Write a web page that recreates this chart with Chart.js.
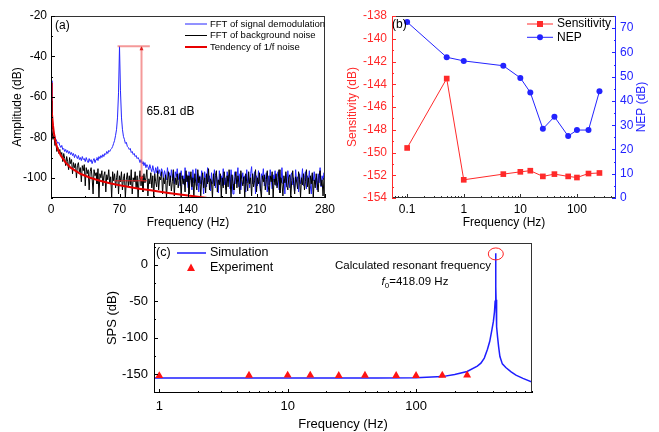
<!DOCTYPE html>
<html>
<head>
<meta charset="utf-8">
<script src="https://cdn.jsdelivr.net/npm/chart.js@4.4.1/dist/chart.umd.min.js"></script>
<style>
  html, body { margin: 0; padding: 0; background: #fff; }
  #wrap { position: relative; width: 659px; height: 432px; overflow: hidden; background: #fff; }
  canvas { position: absolute; }
  #cA { left: 0; top: 0; }
  #cB { left: 330px; top: 0; }
  #cC { left: 0; top: 232px; }
</style>
</head>
<body>
<div id="wrap">
  <canvas id="cC" width="659" height="200"></canvas>
  <canvas id="cA" width="345" height="235"></canvas>
  <canvas id="cB" width="329" height="235"></canvas>
</div>
<script>
// ---- (a) FFT spectra, one value per 1 Hz bin from 0 Hz to 280 Hz ----
const fftStartHz = 0;
const fftStepHz = 1;
const fftSignal = [
  -52, -68, -75, -78, -80, -81, -82, -83, -82.5, -84,
  -85, -84, -86, -85.5, -87, -86, -87.5, -86.5, -88, -87,
  -88.5, -87.5, -89, -88, -90, -88.5, -89.5, -90.5, -89, -91,
  -90, -91.5, -89.5, -91, -90.5, -92, -90, -91.5, -92.5, -90.5,
  -92, -91, -93, -91.5, -90.5, -92.5, -91, -90, -91.5, -89.5,
  -90.5, -89, -90, -88.5, -89.5, -88, -88.5, -87, -88, -86.5,
  -87, -86, -85.5, -84.5, -83, -81.5, -79, -76, -70, -58,
  -35, -57, -70, -76, -79.5, -81, -83, -82.5, -84.5, -85,
  -86, -85.5, -87.5, -87, -88.5, -88, -89.5, -89, -90.5, -90,
  -91, -92.5, -91, -93, -92, -94, -92.5, -95, -93.5, -94.5,
  -96, -93.5, -95.5, -97, -94, -96.5, -98, -95, -97.5, -94.5,
  -98, -96, -99, -95.5, -97, -100, -96.5, -98.5, -101, -95,
  -99, -97.5, -102, -96, -100, -98, -103, -97, -99.5, -95.5,
  -101, -98, -104, -96.5, -100.5, -99, -103.5, -95, -102, -98.5,
  -105, -97, -101, -99.5, -106, -96, -102.5, -100, -95.5, -104,
  -98, -107, -99, -103, -96.5, -101.5, -108, -97, -100, -104.5,
  -95, -102, -99, -106.5, -97.5, -103, -100.5, -96, -105, -98.5,
  -101, -107.5, -96.5, -102, -99, -104, -95.5, -103.5, -100, -106,
  -97, -101.5, -98.5, -105.5, -96, -102, -108, -99.5, -97, -103,
  -100, -95, -104.5, -98, -106, -101, -97.5, -103, -99, -107,
  -96, -102.5, -100, -105, -98, -94.5, -103, -101, -97, -108,
  -99, -104, -96.5, -102, -106.5, -98, -100.5, -95.5, -104, -101,
  -97.5, -107, -99, -103.5, -96, -101, -105.5, -98.5, -102, -96.5,
  -104, -100, -97, -106, -99.5, -102.5, -95, -103, -101, -108,
  -98, -104.5, -96.5, -101, -105, -99, -97.5, -103.5, -100, -106.5,
  -96, -102, -99.5, -107, -98, -103, -101, -95.5, -104, -100,
  -97, -105.5, -99, -102, -96.5, -104, -108, -98.5, -101.5, -97,
  -103, -100, -106, -98, -102.5, -95, -104.5, -99, -101, -97.5,
  -103
];
const fftBackground = [
  -62, -76, -81, -79, -84, -83, -87, -85, -88, -86,
  -89, -87.5, -92, -88, -90.5, -94, -89.5, -92, -96, -90,
  -93, -91, -98, -92.5, -95, -93, -100, -94, -92.5, -97,
  -95, -102, -94, -96.5, -93.5, -104, -95, -98, -96, -106,
  -97, -95, -100, -108, -96, -99, -97.5, -103, -95.5, -110,
  -98, -100, -96.5, -104, -99, -97, -107, -98.5, -101, -96,
  -103, -99.5, -110, -97, -101.5, -98, -105, -100, -96.5, -108,
  -99, -102, -97, -106, -100.5, -98, -110, -101, -97.5, -104,
  -99, -103.5, -96, -108, -100, -102, -97, -105.5, -99, -110,
  -101, -96.5, -104, -99, -107, -98, -102.5, -100, -96, -109,
  -100.5, -103, -97.5, -105, -99, -110, -98, -102, -104.5, -96.5,
  -106, -99.5, -101, -97, -108, -100, -103, -98.5, -110, -101.5,
  -97, -104, -99, -106.5, -102, -96, -109, -100, -103.5, -98,
  -105, -101, -97.5, -110, -99, -103, -100.5, -107, -96.5, -102,
  -99, -108, -101.5, -97, -104.5, -100, -110, -98, -103, -106,
  -96, -102.5, -99.5, -109, -101, -97.5, -105, -100, -107.5, -98,
  -103, -95.5, -106, -100.5, -102, -110, -98, -104, -99, -96.5,
  -107, -101, -103.5, -98, -109.5, -100, -105, -97, -102, -108,
  -99, -104.5, -96, -101, -110, -98.5, -103, -106, -100, -97,
  -105, -99, -102.5, -108, -96.5, -101, -104, -99.5, -110, -98,
  -102, -106.5, -97, -103, -100, -109, -98, -104.5, -101.5, -96,
  -107, -100, -103, -97.5, -105.5, -110, -99, -102, -98.5, -106,
  -101, -96.5, -104, -108.5, -99, -102, -97, -110, -100.5, -103.5,
  -98, -105, -101, -96, -107.5, -100, -103, -109, -99, -102.5,
  -97, -104, -106, -100, -98.5, -110, -101.5, -96.5, -103, -108,
  -99.5, -102, -105.5, -97, -101, -109.5, -100, -103.5, -98, -106,
  -102, -96, -104.5, -100, -108, -99, -103, -97.5, -110, -101,
  -105, -98, -102.5, -107, -99, -96.5, -104, -101, -109, -100,
  -103
];
const trendFreq = [0.3, 0.5, 1, 2, 3, 5, 7, 10, 15, 20, 30, 40, 50, 60, 70, 80, 90, 100, 110, 120, 130, 140, 150, 160, 170];
const trendAmp = [-53, -60, -67, -74, -78, -83, -86, -89, -92.5, -95, -98, -100, -101.5, -102.7, -103.7, -104.6, -105.4, -106.1, -106.8, -107.5, -108.2, -108.8, -109.4, -110, -110.6];
const freqTicksA = [0, 70, 140, 210, 280];
const ampTicks = [-100, -80, -60, -40, -20];
const peakLevel = -35;      // dB, top of the signal peak
const noiseLevel = -101.5;  // dB, background level at the marker
const snrFreq = 92.5;       // Hz, where the arrow is drawn
const snrText = '65.81 dB';

// ---- (b) sensitivity and NEP vs. frequency ----
const testFreq = [0.1, 0.5, 1, 5, 10, 15, 25, 40, 70, 100, 160, 250];
const sensitivity = [-149.6, -143.5, -152.4, -151.9, -151.7, -151.6, -152.1, -151.9, -152.1, -152.2, -151.85, -151.8];
const nep = [72.5, 58, 56.5, 54.5, 49.5, 43.5, 28.5, 33.5, 25.5, 28, 28, 44];
const freqTicksB = [0.1, 1, 10, 100];
const sensTicks = [-154, -152, -150, -148, -146, -144, -142, -140, -138];
const nepTicks = [0, 10, 20, 30, 40, 50, 60, 70];

// ---- (c) simulated SPS and experiment ----
const simFreq = [0.9, 1, 2, 5, 10, 20, 50, 100, 160, 200, 250, 300, 320, 340, 360, 375, 390, 400, 408, 413, 416, 418.09, 419, 420, 422, 426, 432, 440, 450, 470, 500, 550, 600, 680, 800];
const simSPS = [-155.5, -155.5, -155.5, -155.5, -155.5, -155.5, -155.3, -155, -153.5, -150.5, -146.5, -139, -135, -128, -116, -105, -89, -78, -65, -50, -30, 16, -30, -48, -65, -85, -100, -113, -126, -136, -141, -147, -151.5, -156, -161];
const expFreq = [1, 5, 10, 15, 25, 40, 70, 100, 160, 250];
const expSPS = [-152.4, -151.9, -151.7, -151.6, -152.1, -151.9, -152.1, -152.2, -151.85, -151.5];
const freqTicksC = [1, 10, 100];
const spsTicks = [-150, -100, -50, 0];
const resonantFreq = 418.09;
const resonantPeak = 15;

// -----------------------------------------------------------------
Chart.defaults.font.family = "'Liberation Sans', Arial, sans-serif";
Chart.defaults.color = '#000';

const blueA = '#2424ff', redA = '#e80000';
const redB = '#ff2a2a', blueB = '#2323ff';
const blueC = '#1e1eff', redC = '#ff1414';

const xy = (xs, ys) => xs.map((x, i) => ({ x: x, y: ys[i] }));
const fftPoints = amps => amps.map((y, i) => ({ x: fftStartHz + i * fftStepHz, y: y }));
const useTicks = list => s => { s.ticks = list.map(v => ({ value: v })); };
const fixW = w => s => { s.width = w; s.paddingTop = 0; s.paddingBottom = 0; s.paddingLeft = 0; s.paddingRight = 0; };
const fixH = h => s => { s.height = h; s.paddingTop = 0; s.paddingBottom = 0; s.paddingLeft = 0; s.paddingRight = 0; };

// minor tick positions on a log axis (2..9 of each decade)
function logMinors(from, to) {
  const out = [];
  for (let d = from; d < to; d *= 10) {
    for (let k = 2; k <= 9; k++) out.push(d * k);
  }
  return out;
}
function stepMinors(from, to, step) {
  const out = [];
  for (let v = from; v <= to; v += step) out.push(v);
  return out;
}

// frame round the plot and inward tick marks (Origin look)
function axisFrame(frameColor, axes) {
  return {
    id: 'axisFrame',
    afterDraw(chart) {
      const ctx = chart.ctx, a = chart.chartArea;
      ctx.save();
      ctx.lineWidth = 1;
      ctx.strokeStyle = frameColor;
      ctx.strokeRect(a.left + 0.5, a.top + 0.5, a.right - a.left - 1, a.bottom - a.top - 1);
      axes.forEach(ax => {
        const sc = chart.scales[ax.id];
        ctx.strokeStyle = ax.color;
        ctx.beginPath();
        if (ax.side === 'left') { ctx.moveTo(a.left + 0.5, a.top); ctx.lineTo(a.left + 0.5, a.bottom); }
        if (ax.side === 'right') { ctx.moveTo(a.right - 0.5, a.top); ctx.lineTo(a.right - 0.5, a.bottom); }
        if (ax.side === 'bottom') { ctx.moveTo(a.left, a.bottom - 0.5); ctx.lineTo(a.right, a.bottom - 0.5); }
        const mark = (v, len) => {
          if (v < sc.min || v > sc.max) return;
          const p = Math.round(sc.getPixelForValue(v)) + 0.5;
          if (ax.side === 'bottom') { ctx.moveTo(p, a.bottom); ctx.lineTo(p, a.bottom - len); }
          if (ax.side === 'left') { ctx.moveTo(a.left, p); ctx.lineTo(a.left + len, p); }
          if (ax.side === 'right') { ctx.moveTo(a.right, p); ctx.lineTo(a.right - len, p); }
        };
        sc.ticks.forEach(t => mark(t.value, 4));
        ax.minor.forEach(v => mark(v, 2));
        ctx.stroke();
      });
      ctx.restore();
    }
  };
}

function baseAxis(extra) {
  const ax = {
    grid: { display: false, drawTicks: false },
    border: { display: false },
    ticks: { maxRotation: 0, minRotation: 0, autoSkip: false, padding: 4, font: { size: 12 }, color: '#000' },
    title: { display: true, font: { size: 12 }, color: '#000' }
  };
  Object.keys(extra).forEach(k => {
    if (typeof extra[k] === 'object' && !Array.isArray(extra[k]) && ax[k]) Object.assign(ax[k], extra[k]);
    else ax[k] = extra[k];
  });
  return ax;
}

// ---------------- panel (a) ----------------
const extrasA = {
  id: 'extrasA',
  afterDraw(chart) {
    const ctx = chart.ctx, a = chart.chartArea;
    const x = chart.scales.x, y = chart.scales.y;
    ctx.save();
    ctx.beginPath();
    ctx.rect(a.left, a.top, a.right - a.left, a.bottom - a.top);
    ctx.clip();
    // difference marker
    ctx.strokeStyle = 'rgba(240,110,110,0.7)';
    ctx.lineWidth = 2;
    ctx.beginPath();
    ctx.moveTo(x.getPixelForValue(68), y.getPixelForValue(peakLevel));
    ctx.lineTo(x.getPixelForValue(101), y.getPixelForValue(peakLevel));
    ctx.moveTo(x.getPixelForValue(snrFreq), y.getPixelForValue(peakLevel));
    ctx.lineTo(x.getPixelForValue(snrFreq), y.getPixelForValue(noiseLevel));
    ctx.stroke();
    ctx.strokeStyle = '#e02020';
    ctx.lineWidth = 1;
    ctx.beginPath();
    ctx.moveTo(x.getPixelForValue(65), y.getPixelForValue(noiseLevel));
    ctx.lineTo(x.getPixelForValue(98), y.getPixelForValue(noiseLevel));
    ctx.stroke();
    const ax = x.getPixelForValue(snrFreq);
    const yTop = y.getPixelForValue(peakLevel), yBot = y.getPixelForValue(noiseLevel);
    ctx.fillStyle = '#e02020';
    ctx.beginPath();
    ctx.moveTo(ax, yTop); ctx.lineTo(ax - 2, yTop + 4); ctx.lineTo(ax + 2, yTop + 4); ctx.closePath();
    ctx.moveTo(ax, yBot); ctx.lineTo(ax - 2, yBot - 4); ctx.lineTo(ax + 2, yBot - 4); ctx.closePath();
    ctx.fill();
    ctx.restore();

    ctx.save();
    ctx.fillStyle = '#000';
    ctx.textBaseline = 'middle';
    ctx.font = "12px 'Liberation Sans', Arial, sans-serif";
    ctx.fillText(snrText, x.getPixelForValue(97.5), y.getPixelForValue(-67.5));
    ctx.fillText('(a)', a.left + 4, a.top + 10);
    // legend
    ctx.font = "9.5px 'Liberation Sans', Arial, sans-serif";
    chart.data.datasets.forEach((ds, i) => {
      const ly = a.top + 8 + i * 11.5;
      ctx.strokeStyle = ds.borderColor;
      ctx.lineWidth = ds.borderWidth;
      ctx.beginPath();
      ctx.moveTo(185, ly); ctx.lineTo(207, ly);
      ctx.stroke();
      ctx.fillText(ds.label, 210, ly);
    });
    ctx.restore();
  }
};

new Chart(document.getElementById('cA'), {
  type: 'line',
  data: {
    datasets: [
      { label: 'FFT of signal demodulation', data: fftPoints(fftSignal), borderColor: blueA, borderWidth: 1, pointRadius: 0, order: 3 },
      { label: 'FFT of background noise', data: fftPoints(fftBackground), borderColor: '#000', borderWidth: 1, pointRadius: 0, order: 2 },
      { label: 'Tendency of 1/f noise', data: xy(trendFreq, trendAmp), borderColor: redA, borderWidth: 2, pointRadius: 0, order: 1 }
    ]
  },
  options: {
    responsive: false,
    animation: false,
    events: [],
    layout: { padding: { top: 16, right: 20, left: 0, bottom: 0 } },
    plugins: { legend: { display: false }, tooltip: { enabled: false } },
    scales: {
      x: baseAxis({
        type: 'linear', min: 0, max: 280,
        afterBuildTicks: useTicks(freqTicksA), afterFit: fixH(37),
        title: { text: 'Frequency (Hz)', padding: { top: 0, bottom: 5 } }
      }),
      y: baseAxis({
        type: 'linear', min: -110, max: -20,
        afterBuildTicks: useTicks(ampTicks), afterFit: fixW(51),
        title: { text: 'Amplitude (dB)', padding: { top: 10, bottom: 0 } }
      })
    }
  },
  plugins: [axisFrame('#333', [
    { id: 'x', side: 'bottom', color: '#000', minor: [35, 105, 175, 245] },
    { id: 'y', side: 'left', color: '#000', minor: stepMinors(-110, -30, 20) }
  ]), extrasA]
});

// ---------------- panel (b) ----------------
const extrasB = {
  id: 'extrasB',
  afterDraw(chart) {
    const ctx = chart.ctx, a = chart.chartArea;
    ctx.save();
    ctx.textBaseline = 'middle';
    ctx.font = "12px 'Liberation Sans', Arial, sans-serif";
    ctx.fillStyle = '#000';
    ctx.fillText('(b)', a.left + 0, a.top + 9);
    // legend with markers
    chart.data.datasets.forEach((ds, i) => {
      const ly = 24 + i * 13.3;
      ctx.strokeStyle = ds.borderColor;
      ctx.fillStyle = ds.borderColor;
      ctx.lineWidth = 1;
      ctx.beginPath();
      ctx.moveTo(197, ly); ctx.lineTo(223, ly);
      ctx.stroke();
      if (ds.pointStyle === 'rect') {
        ctx.fillRect(207, ly - 3, 6, 6);
      } else {
        ctx.beginPath(); ctx.arc(210, ly, 3, 0, Math.PI * 2); ctx.fill();
      }
      ctx.fillStyle = '#000';
      ctx.fillText(ds.label, 227, ly);
    });
    // right axis title reads upward like the left one
    ctx.fillStyle = blueB;
    ctx.textAlign = 'center';
    ctx.translate(312, (a.top + a.bottom) / 2);
    ctx.rotate(-Math.PI / 2);
    ctx.fillText('NEP (dB)', 0, 0);
    ctx.restore();
  }
};

new Chart(document.getElementById('cB'), {
  type: 'line',
  data: {
    datasets: [
      { label: 'Sensitivity', data: xy(testFreq, sensitivity), yAxisID: 'yL', borderColor: redB, backgroundColor: redB, borderWidth: 1, pointStyle: 'rect', pointRadius: 4, pointBorderWidth: 0 },
      { label: 'NEP', data: xy(testFreq, nep), yAxisID: 'yR', borderColor: blueB, backgroundColor: blueB, borderWidth: 1, pointStyle: 'circle', pointRadius: 3, pointBorderWidth: 0 }
    ]
  },
  options: {
    responsive: false,
    animation: false,
    events: [],
    layout: { padding: { top: 16, right: 0, left: 0, bottom: 0 } },
    plugins: { legend: { display: false }, tooltip: { enabled: false } },
    scales: {
      x: baseAxis({
        type: 'logarithmic', min: 0.054, max: 490,
        afterBuildTicks: useTicks(freqTicksB), afterFit: fixH(37),
        ticks: { callback: v => String(v) },
        title: { text: 'Frequency (Hz)', padding: { top: 0, bottom: 5 } }
      }),
      yL: baseAxis({
        type: 'linear', position: 'left', min: -154, max: -138,
        afterBuildTicks: useTicks(sensTicks), afterFit: fixW(62),
        ticks: { color: redB, padding: 5 },
        title: { text: 'Sensitivity (dB)', color: redB, padding: { top: 15, bottom: 0 } }
      }),
      yR: baseAxis({
        type: 'linear', position: 'right', min: 0, max: 75,
        afterBuildTicks: useTicks(nepTicks), afterFit: fixW(43),
        ticks: { color: blueB, padding: 4 },
        title: { display: false }
      })
    }
  },
  plugins: [axisFrame('#333', [
    { id: 'x', side: 'bottom', color: '#333', minor: logMinors(0.01, 1000) },
    { id: 'yL', side: 'left', color: redB, minor: stepMinors(-153, -139, 2) },
    { id: 'yR', side: 'right', color: blueB, minor: stepMinors(5, 75, 10) }
  ]), extrasB]
});

// ---------------- panel (c) ----------------
const extrasC = {
  id: 'extrasC',
  afterDraw(chart) {
    const ctx = chart.ctx, a = chart.chartArea;
    const x = chart.scales.x, y = chart.scales.y;
    ctx.save();
    // circle round the calculated peak
    ctx.strokeStyle = '#ff2020';
    ctx.lineWidth = 1;
    ctx.beginPath();
    ctx.ellipse(x.getPixelForValue(resonantFreq), y.getPixelForValue(resonantPeak), 7.5, 6, 0, 0, Math.PI * 2);
    ctx.stroke();

    ctx.textBaseline = 'middle';
    ctx.fillStyle = '#000';
    ctx.font = "12.5px 'Liberation Sans', Arial, sans-serif";
    ctx.fillText('(c)', a.left + 2, 21);
    // legend
    const sim = chart.data.datasets[1], exp = chart.data.datasets[0];
    ctx.strokeStyle = sim.borderColor;
    ctx.lineWidth = 1.5;
    ctx.beginPath(); ctx.moveTo(177, 21); ctx.lineTo(206, 21); ctx.stroke();
    ctx.fillText(sim.label, 210, 21);
    ctx.fillStyle = exp.backgroundColor;
    ctx.beginPath();
    ctx.moveTo(191, 31.5); ctx.lineTo(187, 39); ctx.lineTo(195, 39); ctx.closePath();
    ctx.fill();
    ctx.fillStyle = '#000';
    ctx.fillText(exp.label, 210, 36);
    // resonance note
    ctx.font = "11.5px 'Liberation Sans', Arial, sans-serif";
    ctx.textAlign = 'center';
    ctx.fillText('Calculated resonant frequency', 413, 34);
    const rest = '=' + resonantFreq.toFixed(2) + ' Hz';
    ctx.textAlign = 'left';
    ctx.font = "italic 11.5px 'Liberation Sans', Arial, sans-serif";
    const wf = ctx.measureText('f').width;
    ctx.font = "8px 'Liberation Sans', Arial, sans-serif";
    const w0 = ctx.measureText('0').width;
    ctx.font = "11.5px 'Liberation Sans', Arial, sans-serif";
    const wr = ctx.measureText(rest).width;
    let sx = 415 - (wf + w0 + wr) / 2;
    ctx.font = "italic 11.5px 'Liberation Sans', Arial, sans-serif";
    ctx.fillText('f', sx, 50);
    sx += wf;
    ctx.font = "8px 'Liberation Sans', Arial, sans-serif";
    ctx.fillText('0', sx, 54);
    sx += w0;
    ctx.font = "11.5px 'Liberation Sans', Arial, sans-serif";
    ctx.fillText(rest, sx, 50);
    ctx.restore();
  }
};

new Chart(document.getElementById('cC'), {
  type: 'line',
  data: {
    datasets: [
      { label: 'Experiment', data: xy(expFreq, expSPS), showLine: false, pointStyle: 'triangle', pointRadius: 4.6, backgroundColor: redC, borderColor: redC, pointBorderWidth: 0, order: 1 },
      { label: 'Simulation', data: xy(simFreq, simSPS), borderColor: blueC, borderWidth: 1.5, pointRadius: 0, order: 2 }
    ]
  },
  options: {
    responsive: false,
    animation: false,
    events: [],
    layout: { padding: { top: 11, right: 127, left: 100, bottom: 0 } },
    plugins: { legend: { display: false }, tooltip: { enabled: false } },
    scales: {
      x: baseAxis({
        type: 'logarithmic', min: 0.91, max: 800,
        afterBuildTicks: useTicks(freqTicksC), afterFit: fixH(39),
        ticks: { callback: v => String(v), font: { size: 13 }, padding: 6 },
        title: { text: 'Frequency (Hz)', font: { size: 13 }, padding: { top: 0, bottom: 0 } }
      }),
      y: baseAxis({
        type: 'linear', min: -176, max: 30,
        afterBuildTicks: useTicks(spsTicks), afterFit: fixW(54),
        ticks: { font: { size: 13 }, padding: 6 },
        title: { text: 'SPS (dB)', font: { size: 13 }, padding: { top: 5, bottom: 0 } }
      })
    }
  },
  plugins: [axisFrame('#333', [
    { id: 'x', side: 'bottom', color: '#000', minor: logMinors(1, 1000) },
    { id: 'y', side: 'left', color: '#000', minor: [-175, -125, -75, -25, 25] }
  ]), extrasC]
});
</script>
</body>
</html>
